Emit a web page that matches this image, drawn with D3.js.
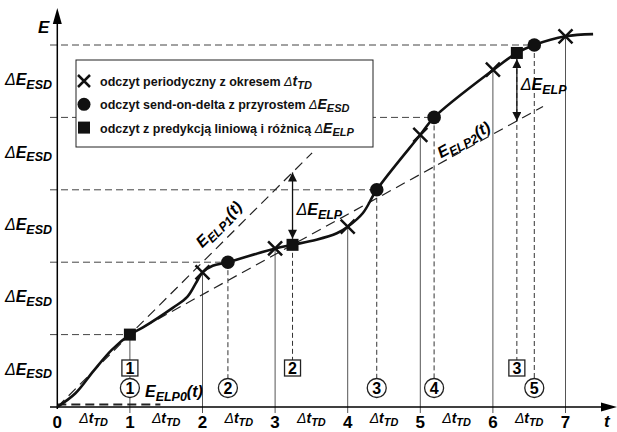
<!DOCTYPE html>
<html>
<head>
<meta charset="utf-8">
<script src="https://cdn.jsdelivr.net/npm/d3@7"></script>
<style>
    body { margin: 0; background: #fff; }
    svg { display: block; font-family: "Liberation Sans", Arial, sans-serif; }
</style>
</head>
<body>
<div id="chart"></div>
<script>
// t in units of Δt_TD, E in units of ΔE_ESD
const tickValues = [0, 1, 2, 3, 4, 5, 6, 7];
const levelValues = [1, 2, 3, 4, 5];
const levelEndT = [1, 2.35, 4.40, 5.19, 6.57];

const curveT = [0, 0.25, 0.5, 0.75, 1, 1.18, 1.59, 1.79, 1.92, 2.0, 2.14, 2.35, 3.0, 3.24, 3.57, 3.85, 4.0, 4.21, 4.40, 5.0, 5.19, 6.01, 6.33, 6.57, 7.0, 7.38];
const curveE = [0, 0.19, 0.5, 0.79, 1, 1.10, 1.37, 1.52, 1.73, 1.86, 1.95, 2.0, 2.19, 2.24, 2.31, 2.40, 2.49, 2.68, 3.0, 3.76, 4.0, 4.66, 4.89, 5.0, 5.12, 5.15];

// periodic readings (t = 1 coincides with the first square)
const periodicT = [1, 2, 3, 4, 5, 6, 7];
const periodicE = [1, 1.86, 2.19, 2.49, 3.76, 4.66, 5.12];

// send-on-delta readings
const sodT = [1, 2.35, 4.40, 5.19, 6.57];
const sodE = [1, 2, 3, 4, 5];
const sodLabels = ['1', '2', '3', '4', '5'];

// linear prediction readings
const elpT = [1, 3.24, 6.33];
const elpE = [1, 2.24, 4.89];
const elpLabels = ['1', '2', '3'];

// prediction lines
const elp0T = [0, 1.42], elp0E = [0.035, 0.035];
const elp1T = [0, 3.51], elp1E = [0, 3.51];
const elp2T = [1, 6.69], elp2E = [1, 4.15];

// ΔE_ELP arrows: t, upper E, lower E
const arrowT = [3.24, 6.33];
const arrowTopE = [3.24, 4.89];
const arrowBotE = [2.24, 3.95];

const legendItems = [
    { mark: 'x', text: 'odczyt periodyczny z okresem ', sym: 't', sub: 'TD' },
    { mark: 'o', text: 'odczyt send-on-delta z przyrostem ', sym: 'E', sub: 'ESD' },
    { mark: 's', text: 'odczyt z predykcją liniową i różnicą ', sym: 'E', sub: 'ELP' }
];

const width = 617, height = 432;
const x = d3.scaleLinear().domain([0, 7]).range([57.3, 565.5]);
const y = d3.scaleLinear().domain([0, 5]).range([407, 45]);

const svg = d3.select('#chart').append('svg')
    .attr('width', width)
    .attr('height', height);

const defs = svg.append('defs');
defs.append('marker')
    .attr('id', 'ahead')
    .attr('markerUnits', 'userSpaceOnUse')
    .attr('viewBox', '0 0 10 10')
    .attr('refX', 10).attr('refY', 5)
    .attr('markerWidth', 13).attr('markerHeight', 9)
    .attr('orient', 'auto-start-reverse')
    .append('path')
    .attr('d', 'M0,0 L10,5 L0,10 Z')
    .attr('fill', '#111');

// level lines (ΔE_ESD steps)
levelValues.forEach((lv, i) => {
    svg.append('line')
        .attr('x1', 50).attr('x2', x(levelEndT[i]))
        .attr('y1', y(lv)).attr('y2', y(lv))
        .attr('stroke', '#444').attr('stroke-width', 1)
        .attr('stroke-dasharray', '7,4');
});

// vertical solid lines at periodic times
periodicT.forEach((t, i) => {
    svg.append('line')
        .attr('x1', x(t)).attr('x2', x(t))
        .attr('y1', y(periodicE[i])).attr('y2', y(0) + 6)
        .attr('stroke', '#555').attr('stroke-width', 1);
});

// vertical dashed lines to the numbered labels
sodT.slice(1).forEach((t, i) => {
    svg.append('line')
        .attr('x1', x(t)).attr('x2', x(t))
        .attr('y1', y(sodE[i + 1])).attr('y2', y(0) - 28)
        .attr('stroke', '#333').attr('stroke-width', 1)
        .attr('stroke-dasharray', '5,3');
});
elpT.slice(1).forEach((t, i) => {
    svg.append('line')
        .attr('x1', x(t)).attr('x2', x(t))
        .attr('y1', y(elpE[i + 1])).attr('y2', y(0) - 46)
        .attr('stroke', '#333').attr('stroke-width', 1)
        .attr('stroke-dasharray', '5,3');
});

// prediction lines
const predLine = (ts, es, w, dash) => {
    svg.append('line')
        .attr('x1', x(ts[0])).attr('y1', y(es[0]))
        .attr('x2', x(ts[1])).attr('y2', y(es[1]))
        .attr('stroke', '#222').attr('stroke-width', w)
        .attr('stroke-dasharray', dash);
};
predLine(elp0T, elp0E, 2, '9,5');
predLine(elp1T, elp1E, 1.2, '10,6');
predLine(elp2T, elp2E, 1.2, '10,6');

// axes
svg.append('line')
    .attr('x1', 50).attr('x2', 604)
    .attr('y1', y(0)).attr('y2', y(0))
    .attr('stroke', '#000').attr('stroke-width', 1.5);
svg.append('path')
    .attr('d', `M617,${y(0)} L601,${y(0) - 4.5} L601,${y(0) + 4.5} Z`)
    .attr('fill', '#000');
svg.append('line')
    .attr('x1', x(0)).attr('x2', x(0))
    .attr('y1', y(0) + 2).attr('y2', 20)
    .attr('stroke', '#000').attr('stroke-width', 1.5);
svg.append('path')
    .attr('d', `M${x(0)},8 L${x(0) - 4.5},24 L${x(0) + 4.5},24 Z`)
    .attr('fill', '#000');

// energy curve
const curveData = curveT.map((t, i) => [t, curveE[i]]);
svg.append('path')
    .datum(curveData)
    .attr('fill', 'none')
    .attr('stroke', '#111')
    .attr('stroke-width', 2.6)
    .attr('d', d3.line()
        .x(d => x(d[0]))
        .y(d => y(d[1]))
        .curve(d3.curveCatmullRom.alpha(0.5)));

// ΔE_ELP arrows
arrowT.forEach((t, i) => {
    svg.append('line')
        .attr('x1', x(t)).attr('x2', x(t))
        .attr('y1', y(arrowTopE[i]) + (i === 1 ? 6 : 0))
        .attr('y2', y(arrowBotE[i]) - (i === 0 ? 6 : 0))
        .attr('stroke', '#111').attr('stroke-width', 1.3)
        .attr('marker-start', 'url(#ahead)')
        .attr('marker-end', 'url(#ahead)');
});

// markers
const drawX = (g, cx, cy, s) => {
    g.append('path')
        .attr('d', `M${cx - s},${cy - s} L${cx + s},${cy + s} M${cx - s},${cy + s} L${cx + s},${cy - s}`)
        .attr('stroke', '#111').attr('stroke-width', 2.5).attr('fill', 'none');
};
periodicT.slice(1).forEach((t, i) => drawX(svg, x(t), y(periodicE[i + 1]), 7));

svg.selectAll('.sod')
    .data(sodT.slice(1))
    .enter()
    .append('circle')
    .attr('class', 'sod')
    .attr('cx', d => x(d))
    .attr('cy', (d, i) => y(sodE[i + 1]))
    .attr('r', 6.8)
    .attr('fill', '#111');

svg.selectAll('.elp')
    .data(elpT)
    .enter()
    .append('rect')
    .attr('class', 'elp')
    .attr('x', d => x(d) - 6)
    .attr('y', (d, i) => y(elpE[i]) - 6)
    .attr('width', 12).attr('height', 12)
    .attr('fill', '#111');

// numbered labels
elpT.forEach((t, i) => {
    const g = svg.append('g').attr('transform', `translate(${x(t)},${y(0) - 39})`);
    g.append('rect')
        .attr('x', -8).attr('y', -8).attr('width', 16).attr('height', 16)
        .attr('fill', '#fff').attr('stroke', '#222').attr('stroke-width', 1.3);
    g.append('text')
        .attr('text-anchor', 'middle').attr('y', 6)
        .attr('font-size', '16px').attr('font-weight', 'bold')
        .text(elpLabels[i]);
});
sodT.forEach((t, i) => {
    const g = svg.append('g').attr('transform', `translate(${x(t)},${y(0) - 19})`);
    g.append('circle')
        .attr('r', 9.5)
        .attr('fill', '#fff').attr('stroke', '#222').attr('stroke-width', 1.3);
    g.append('text')
        .attr('text-anchor', 'middle').attr('y', 6)
        .attr('font-size', '16px').attr('font-weight', 'bold')
        .text(sodLabels[i]);
});

// math-like label helper: [Δ] main _sub [suffix]
const mathLabel = (sel, delta, main, sub, suffix, size) => {
    const t = sel.attr('font-style', 'italic').attr('font-weight', 'bold').attr('font-size', size + 'px');
    if (delta) t.append('tspan').attr('font-weight', 'normal').text('Δ');
    t.append('tspan').text(main);
    t.append('tspan').attr('font-size', (size * 0.78) + 'px').attr('dy', size * 0.22).text(sub);
    if (suffix) t.append('tspan').attr('dy', -size * 0.22).text(suffix);
    return t;
};

// y labels
levelValues.forEach(lv => {
    mathLabel(svg.append('text')
        .attr('x', 52).attr('y', y(lv - 0.5) + 4)
        .attr('text-anchor', 'end'), true, 'E', 'ESD', null, 16);
});

// x tick labels
svg.selectAll('.tick-label')
    .data(tickValues)
    .enter()
    .append('text')
    .attr('class', 'tick-label')
    .attr('x', d => x(d))
    .attr('y', 428)
    .attr('text-anchor', 'middle')
    .attr('font-size', '17px')
    .attr('font-weight', 'bold')
    .text(d => d);

tickValues.slice(1).forEach(v => {
    mathLabel(svg.append('text')
        .attr('x', x(v - 0.5)).attr('y', 423)
        .attr('text-anchor', 'middle'), true, 't', 'TD', null, 14);
});

// axis names
svg.append('text').attr('x', 38).attr('y', 33)
    .attr('font-size', '17px').attr('font-weight', 'bold').attr('font-style', 'italic')
    .text('E');
svg.append('text').attr('x', 604).attr('y', 427)
    .attr('font-size', '17px').attr('font-weight', 'bold').attr('font-style', 'italic')
    .text('t');

// prediction line names
mathLabel(svg.append('text').attr('x', 145).attr('y', 397), false, 'E', 'ELP0', '(t)', 16);

const a1 = -Math.atan2(y(elp1E[0]) - y(elp1E[1]), x(elp1T[1]) - x(elp1T[0])) * 180 / Math.PI;
mathLabel(svg.append('text')
    .attr('transform', `translate(${x(2.05) - 4},${y(2.05) - 10}) rotate(${a1})`), false, 'E', 'ELP1', '(t)', 16);

const a2 = -Math.atan2(y(elp2E[0]) - y(elp2E[1]), x(elp2T[1]) - x(elp2T[0])) * 180 / Math.PI;
mathLabel(svg.append('text')
    .attr('transform', `translate(${x(5.244) + 3},${y(3.351) - 6}) rotate(${a2})`), false, 'E', 'ELP2', '(t)', 16);

// arrow labels
mathLabel(svg.append('text').attr('x', x(3.24) + 4).attr('y', 215), true, 'E', 'ELP', null, 16);
mathLabel(svg.append('text').attr('x', x(6.33) + 4).attr('y', 90), true, 'E', 'ELP', null, 16);

// legend
const legend = svg.append('g').attr('class', 'legend');
legend.append('rect')
    .attr('x', 76).attr('y', 60).attr('width', 297).attr('height', 87)
    .attr('fill', '#fff').attr('stroke', '#222').attr('stroke-width', 1);

legendItems.forEach((d, i) => {
    const cy = 81 + i * 23.3;
    if (d.mark === 'x') drawX(legend, 84, cy, 6);
    if (d.mark === 'o') legend.append('circle').attr('cx', 84).attr('cy', cy).attr('r', 6.5).attr('fill', '#111');
    if (d.mark === 's') legend.append('rect').attr('x', 78).attr('y', cy - 6).attr('width', 12).attr('height', 12).attr('fill', '#111');
    const t = legend.append('text')
        .attr('x', 100).attr('y', cy + 5)
        .attr('font-size', '12.5px').attr('font-weight', 'bold').attr('fill', '#111');
    t.append('tspan').text(d.text);
    t.append('tspan').attr('font-style', 'italic').attr('font-weight', 'normal').text('Δ');
    t.append('tspan').attr('font-style', 'italic').attr('font-size', '14px').text(d.sym);
    t.append('tspan').attr('font-style', 'italic').attr('font-size', '11px').attr('dy', 3).text(d.sub);
});
</script>
</body>
</html>
